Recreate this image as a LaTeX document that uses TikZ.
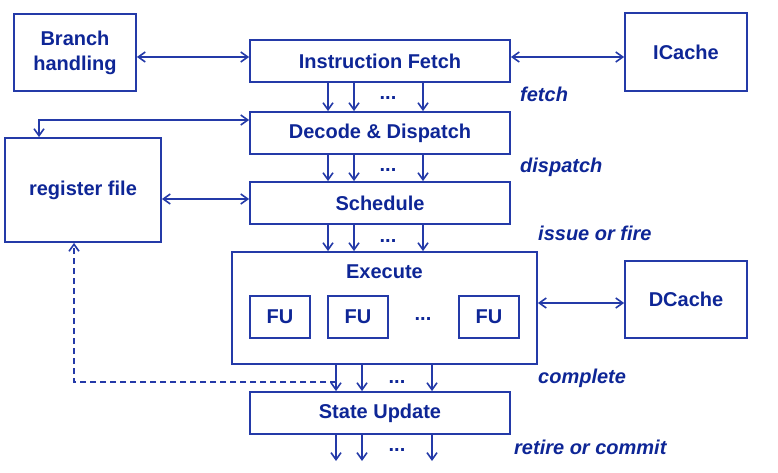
\documentclass[tikz,border=0pt]{standalone}
\usepackage{fontspec}
\setmainfont{Liberation Sans}
\usetikzlibrary{arrows.meta}
\definecolor{ink}{RGB}{14,38,150}
\definecolor{edge}{RGB}{36,58,168}

\begin{document}
\begin{tikzpicture}
                [
                x=1pt, y=-1pt,
                every node/.style={text=ink, font=\fontsize{20}{25}\selectfont\bfseries},
                stage/.style={draw=edge, line width=1.8pt, minimum width=260pt, minimum height=42pt, inner sep=0pt},
                side/.style={draw=edge, line width=1.8pt, minimum width=122pt, minimum height=77pt, inner sep=0pt, align=center},
                fu/.style={draw=edge, line width=1.8pt, minimum width=60pt, minimum height=42pt, inner sep=0pt},
                phase/.style={anchor=west, inner sep=0pt, font=\fontsize{20}{25}\selectfont\bfseries\itshape},
                dots/.style={inner sep=0pt},
                arr/.style={draw=edge, line width=1.6pt, -{Straight Barb[length=7pt,width=10pt]}},
                arrb/.style={draw=edge, line width=1.6pt, {Straight Barb[length=7pt,width=10pt]}-{Straight Barb[length=7pt,width=10pt]}}
                ]
                \useasboundingbox (0,0) rectangle (778,473);
                % Pipeline stages
                \node[stage] (fetch) at (380,61) {Instruction Fetch};
                \node[stage] (decode) at (380,133) {Decode \& Dispatch};
                \node[stage] (sched) at (380,203) {Schedule};
                \node[draw=edge, line width=1.8pt, minimum width=305pt, minimum height=112pt, inner sep=0pt] (exec) at (384.5,308) {};
                \node[inner sep=0pt] (execlbl) at (384.5,272) {Execute};
                \node[stage] (update) at (380,413) {State Update};
                % Functional units
                \node[fu] (fu1) at (280,317) {FU};
                \node[fu] (fu2) at (358,317) {FU};
                \node[dots] (fudots) at (423,319) {...};
                \node[fu] (fu3) at (489,317) {FU};
                % Side blocks
                \node[side] (branch) at (75,52.5) {Branch\\handling};
                \node[side, minimum height=78pt] (icache) at (686,52) {ICache};
                \node[side] (dcache) at (686,299.5) {DCache};
                \node[side, minimum width=156pt, minimum height=104pt] (regfile) at (83,190) {register file};
                % Phase labels
                \node[phase] (lfetch) at (520,94) {fetch};
                \node[phase] (ldispatch) at (520,167) {dispatch};
                \node[phase] (lissue) at (538,233) {issue or fire};
                \node[phase] (lcomplete) at (538,378) {complete};
                \node[phase] (lretire) at (514,447) {retire or commit};
                % Dots between the lanes
                \node[dots] (d1) at (388,98) {...};
                \node[dots] (d2) at (388,170) {...};
                \node[dots] (d3) at (388,241) {...};
                \node[dots] (d4) at (397,382) {...};
                \node[dots] (d5) at (397,450) {...};
                % Lanes between stages
                \foreach \x in {328,354,423} {
                    \draw[arr] (fetch.south -| \x,0) -- (decode.north -| \x,0);
                    \draw[arr] (decode.south -| \x,0) -- (sched.north -| \x,0);
                    \draw[arr] (sched.south -| \x,0) -- (exec.north -| \x,0);
                }
                \foreach \x in {336,362,432} {
                    \draw[arr] (exec.south -| \x,0) -- (update.north -| \x,0);
                    \coordinate (out\x) at (\x,461);
                    \draw[arr] (update.south -| \x,0) -- (out\x);
                }
                % Side connections
                \draw[arrb] ([yshift=-4.5pt]branch.east) -- ([yshift=4pt]fetch.west);
                \draw[arrb] ([yshift=4pt]fetch.east) -- ([yshift=-5pt]icache.west);
                \draw[arrb] ([yshift=13pt]decode.west) -| ([xshift=-44pt]regfile.north);
                \draw[arrb] ([yshift=-9pt]regfile.east) -- ([yshift=4pt]sched.west);
                \draw[arrb] ([yshift=5pt]exec.east) -- ([yshift=-3.5pt]dcache.west);
                % Write back
                \coordinate (wb) at (336,382);
                \draw[arr, dashed, dash pattern=on 6pt off 4pt] (wb) -| ([xshift=-9pt]regfile.south);
            \end{tikzpicture}
\end{document}
